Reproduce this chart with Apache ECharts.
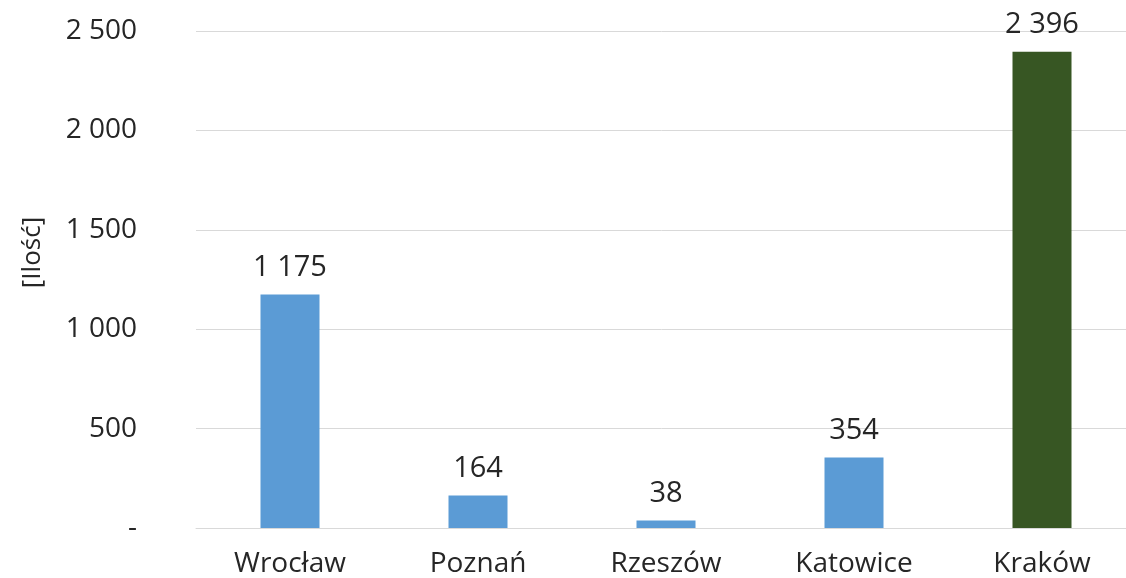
<!DOCTYPE html>
<html>
<head>
<meta charset="utf-8">
<script src="https://cdn.jsdelivr.net/npm/echarts@6/dist/echarts.min.js"></script>
<style>
  html, body { margin: 0; padding: 0; background: #fff; }
  #chart { width: 1126px; height: 578px; }
</style>
</head>
<body>
<div id="chart"></div>
<script>
  // dane wykresu
  var cities = ['Wrocław', 'Poznań', 'Rzeszów', 'Katowice', 'Kraków'];
  var counts = [1175, 164, 38, 354, 2396];
  var yTicks = [0, 500, 1000, 1500, 2000, 2500];
  var highlighted = 'Kraków';

  function fmt(v) {
    if (v === 0) return '-';
    return String(v).replace(/\B(?=(\d{3})+(?!\d))/g, ' ');
  }

  var chart = echarts.init(document.getElementById('chart'));
  var option = {
    animation: false,
    backgroundColor: '#fff',
    grid: { left: 196, width: 940, top: 31, bottom: 50, containLabel: false, outerBoundsMode: 'none' },
    xAxis: {
      type: 'category',
      data: cities,
      axisLine: { lineStyle: { color: '#d9d9d9', width: 1 } },
      axisTick: { show: false },
      axisLabel: {
        color: '#262626',
        fontFamily: 'Open Sans',
        fontSize: 28,
        margin: 22
      }
    },
    yAxis: {
      type: 'value',
      min: yTicks[0],
      max: yTicks[yTicks.length - 1],
      interval: 500,
      name: '[Ilość]',
      nameLocation: 'middle',
      nameGap: 150,
      nameRotate: 90,
      nameTextStyle: { color: '#262626', fontFamily: 'Open Sans', fontSize: 26, padding: [0, 0, 0, 54] },
      axisLine: { show: false },
      axisTick: { show: false },
      splitLine: { lineStyle: { color: '#d9d9d9', width: 1 } },
      axisLabel: {
        color: '#262626',
        fontFamily: 'Open Sans',
        fontSize: 28,
        margin: 59,
        formatter: fmt
      }
    },
    series: [{
      type: 'bar',
      data: counts,
      barWidth: 59,
      itemStyle: {
        color: function (p) { return p.name === highlighted ? '#375623' : '#5b9bd5'; }
      },
      label: {
        show: true,
        position: 'top',
        distance: 12,
        color: '#262626',
        fontFamily: 'Open Sans',
        fontSize: 29,
        formatter: function (p) { return fmt(p.value); }
      }
    }]
  };
  chart.setOption(option);
</script>
</body>
</html>
